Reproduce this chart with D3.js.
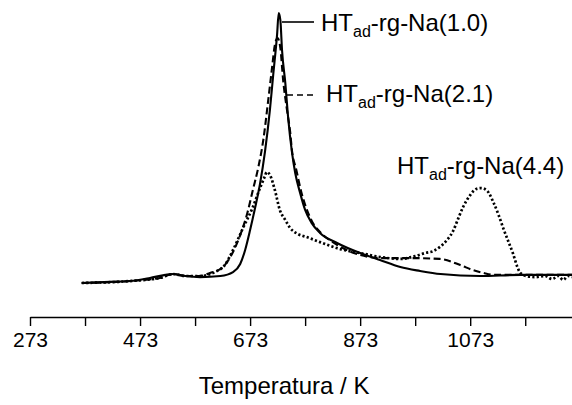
<!DOCTYPE html>
<html>
<head>
<meta charset="utf-8">
<script src="https://cdn.jsdelivr.net/npm/d3@7"></script>
<style>
  html, body { margin: 0; padding: 0; background: #fff; }
  svg { display: block; }
  text { font-family: "Liberation Sans", Arial, sans-serif; fill: #000; }
</style>
</head>
<body>
<svg id="chart" width="572" height="405"></svg>
<script>
// ---- Data (temperature in K, signal in arbitrary units) ----
const tickValues = [273, 373, 473, 573, 673, 773, 873, 973, 1073, 1173];
const tickLabels = ["273", "", "473", "", "673", "", "873", "", "1073", ""];

const seriesNames = ["1.0", "2.1", "4.4"];

const temps10 = [367, 419, 455, 491, 519, 533, 555, 582, 619, 642, 655, 664, 673, 682, 691, 700, 709, 715, 722, 725, 728, 731, 737, 742, 749, 755, 764, 773, 785, 800, 831, 873, 909, 946, 982, 1019, 1091, 1164, 1258];
const vals10  = [2.5, 2.9, 3.2, 4.3, 5.4, 5.7, 5.0, 4.6, 5.0, 6.4, 9.3, 14.3, 21.4, 29.3, 37.9, 49.3, 64.3, 76.8, 91.1, 98.9, 96.4, 85.7, 73.9, 61.8, 49.3, 41.8, 34.6, 28.6, 23.9, 20.4, 16.8, 13.2, 10.7, 8.2, 6.8, 5.7, 5.0, 5.4, 5.4];

const temps21 = [367, 455, 509, 533, 555, 582, 600, 622, 637, 655, 668, 678, 688, 697, 706, 713, 718, 723, 728, 733, 740, 746, 749, 757, 766, 775, 786, 804, 829, 873, 915, 964, 1018, 1055, 1078, 1097, 1118, 1164, 1258];
const vals21  = [2.5, 3.2, 4.3, 5.7, 5.0, 5.0, 6.1, 7.9, 11.8, 19.6, 27.5, 35.7, 43.9, 53.6, 67.9, 79.6, 87.5, 90.0, 86.4, 75.0, 64.3, 56.1, 50.0, 42.9, 35.0, 29.3, 24.3, 20.0, 16.4, 12.5, 11.4, 11.4, 11.1, 8.9, 7.1, 6.1, 5.4, 5.4, 5.4];

const temps44 = [367, 455, 509, 533, 555, 582, 609, 627, 642, 660, 678, 691, 700, 703, 709, 718, 727, 737, 746, 760, 776, 800, 837, 873, 909, 946, 973, 991, 1006, 1018, 1031, 1042, 1051, 1060, 1073, 1084, 1093, 1104, 1115, 1124, 1133, 1142, 1151, 1158, 1164, 1175, 1191, 1209, 1222, 1233, 1242, 1251, 1258];
const vals44  = [2.5, 3.2, 4.3, 5.7, 5.0, 5.0, 6.4, 8.9, 14.3, 22.1, 29.6, 36.4, 40.7, 42.1, 41.1, 35.7, 28.6, 25.0, 22.1, 20.0, 18.9, 17.1, 14.6, 13.2, 11.8, 11.1, 12.1, 13.2, 13.9, 15.4, 17.9, 21.1, 25.4, 29.6, 33.9, 36.1, 36.4, 35.4, 31.4, 27.1, 22.1, 17.5, 12.9, 8.6, 6.1, 5.0, 4.6, 5.0, 3.9, 5.0, 3.6, 5.0, 4.6];

// ---- Layout ----
const svg = d3.select("#chart");
const x = d3.scaleLinear().domain([273, 1258]).range([30, 572]);
const y = d3.scaleLinear().domain([0, 100]).range([290, 10]);
const axisY = 317;

// Axis
const axis = d3.axisBottom(x)
  .tickValues(tickValues)
  .tickFormat((d, i) => tickLabels[i])
  .tickSize(9)
  .tickSizeOuter(0)
  .tickPadding(6);

const gAxis = svg.append("g").attr("transform", `translate(0,${axisY})`).call(axis);
gAxis.select(".domain").attr("stroke", "#000").attr("stroke-width", 1.4);
gAxis.selectAll(".tick line").attr("stroke", "#000").attr("stroke-width", 1.4);
gAxis.selectAll(".tick text")
  .attr("font-size", 21)
  .attr("font-family", "Liberation Sans, Arial, sans-serif")
  .attr("fill", "#000");

svg.append("text")
  .attr("x", x(673) + 34)
  .attr("y", 394)
  .attr("text-anchor", "middle")
  .attr("font-size", 24)
  .text("Temperatura / K");

// Lines
const line = d3.line()
  .x(d => x(d[0]))
  .y(d => y(d[1]))
  .curve(d3.curveMonotoneX);

const series = [
  { name: seriesNames[0], t: temps10, v: vals10, dash: null, w: 2.1 },
  { name: seriesNames[1], t: temps21, v: vals21, dash: "7,3.5", w: 2.1 },
  { name: seriesNames[2], t: temps44, v: vals44, dash: "2.2,2.2", w: 2.7 }
];

series.forEach(s => {
  const pts = s.t.map((t, i) => [t, s.v[i]]);
  svg.append("path")
    .datum(pts)
    .attr("fill", "none")
    .attr("stroke", "#000")
    .attr("stroke-width", s.w)
    .attr("stroke-dasharray", s.dash)
    .attr("stroke-linejoin", "round")
    .attr("d", line);
});

// Labels
function label(xp, yp, name) {
  const t = svg.append("text").attr("x", xp).attr("y", yp).attr("font-size", 24);
  t.append("tspan").text("HT");
  t.append("tspan").attr("font-size", 16).attr("dy", 6).text("ad");
  t.append("tspan").attr("dy", -6).text(`-rg-Na(${name})`);
}
label(321, 31, seriesNames[0]);
label(326, 102, seriesNames[1]);
label(397, 174, seriesNames[2]);

// Leader lines
svg.append("line").attr("x1", 282).attr("y1", 22).attr("x2", 314).attr("y2", 22)
  .attr("stroke", "#000").attr("stroke-width", 1.6);
svg.append("line").attr("x1", 287).attr("y1", 95).attr("x2", 317).attr("y2", 95)
  .attr("stroke", "#000").attr("stroke-width", 1.6).attr("stroke-dasharray", "6,4");
</script>
</body>
</html>
